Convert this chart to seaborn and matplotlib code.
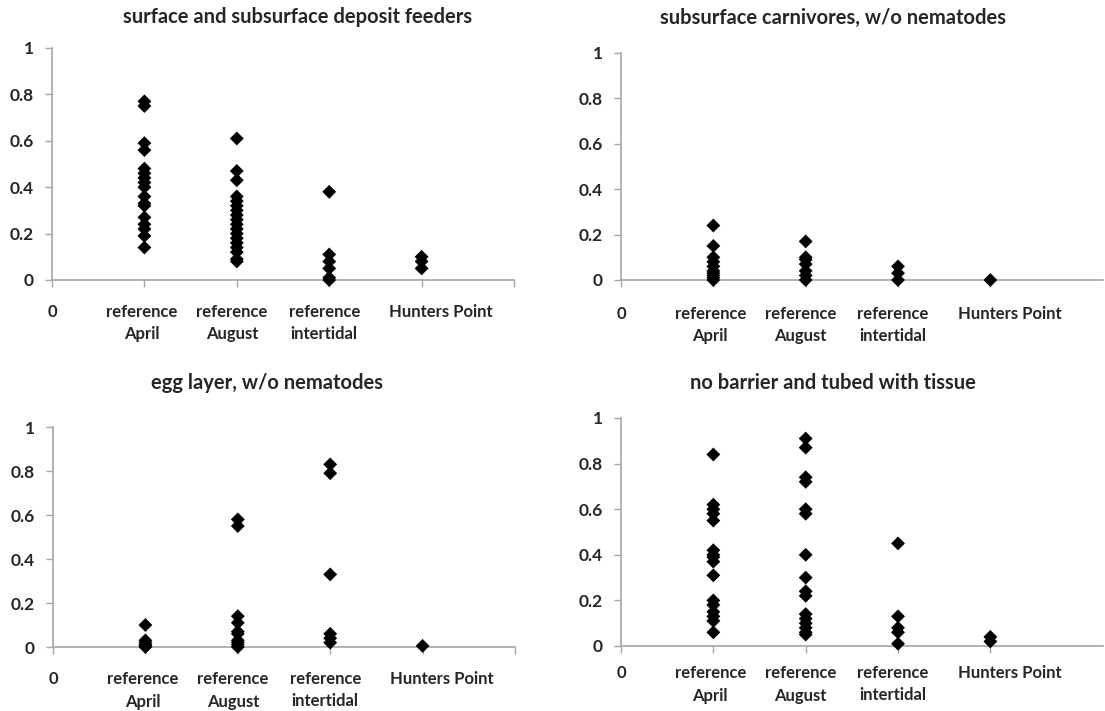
import matplotlib
matplotlib.use("Agg")
import matplotlib.pyplot as plt
import seaborn as sns
import pandas as pd

sns.set_theme(style="white")
plt.rcParams['font.family'] = ['Lato', 'DejaVu Sans']

categories = ["reference April", "reference August", "reference intertidal", "Hunters Point"]
tick_labels = ["0", "reference\nApril", "reference\nAugust", "reference\nintertidal", "Hunters Point", ""]

titles = [
    "surface and subsurface deposit feeders",
    "subsurface carnivores, w/o nematodes",
    "egg layer, w/o nematodes",
    "no barrier and tubed with tissue",
]

deposit_april = [0.77, 0.75, 0.59, 0.56, 0.48, 0.46, 0.44, 0.42, 0.40, 0.36, 0.33, 0.32, 0.27, 0.24, 0.22, 0.19, 0.14]
deposit_august = [0.61, 0.47, 0.43, 0.36, 0.34, 0.32, 0.30, 0.28, 0.26, 0.24, 0.22, 0.20, 0.18, 0.16, 0.14, 0.12, 0.09, 0.08]
deposit_intertidal = [0.38, 0.11, 0.08, 0.05, 0.01, 0.0]
deposit_hunters = [0.10, 0.08, 0.05]

carniv_april = [0.24, 0.15, 0.10, 0.08, 0.06, 0.04, 0.03, 0.02, 0.01, 0.0]
carniv_august = [0.17, 0.10, 0.09, 0.07, 0.04, 0.02, 0.0]
carniv_intertidal = [0.06, 0.03, 0.0]
carniv_hunters = [0.0]

egg_april = [0.10, 0.03, 0.02, 0.01, 0.005, 0.0]
egg_august = [0.58, 0.55, 0.14, 0.11, 0.07, 0.06, 0.03, 0.02, 0.01, 0.0]
egg_intertidal = [0.83, 0.79, 0.33, 0.06, 0.04, 0.02]
egg_hunters = [0.005]

tube_april = [0.84, 0.62, 0.60, 0.58, 0.55, 0.42, 0.40, 0.39, 0.37, 0.31, 0.20, 0.18, 0.15, 0.13, 0.11, 0.06]
tube_august = [0.91, 0.87, 0.74, 0.72, 0.60, 0.58, 0.40, 0.30, 0.24, 0.22, 0.14, 0.12, 0.10, 0.08, 0.06, 0.05]
tube_intertidal = [0.45, 0.13, 0.08, 0.06, 0.01]
tube_hunters = [0.04, 0.02]

panels = [
    [deposit_april, deposit_august, deposit_intertidal, deposit_hunters],
    [carniv_april, carniv_august, carniv_intertidal, carniv_hunters],
    [egg_april, egg_august, egg_intertidal, egg_hunters],
    [tube_april, tube_august, tube_intertidal, tube_hunters],
]

W, H = 1105, 711
fig = plt.figure(figsize=(W / 100, H / 100), dpi=100)

# (left px, right px, top px (y=1), bottom px (y=0), xmax, n ticks)
boxes = [
    (52, 514, 48, 280, 5.0, 6),
    (621, 1103, 53, 280, 5.22, 5),
    (53, 515, 427, 647, 5.0, 6),
    (621, 1103, 418, 646, 5.22, 5),
]
title_pos = [(298, 17), (833, 18), (267, 383), (833, 383)]
label_shift_px = [0, -3, -5, -5, 19, 0]
label_drop_px = [24, 26, 24, 19]

gray = "#a6a6a6"
for i, (vals, box, ttl, tp) in enumerate(zip(panels, boxes, titles, title_pos)):
    l, r, t, b, xmax, nt = box
    ax = fig.add_axes([l / W, 1 - b / H, (r - l) / W, (b - t) / H])
    rows = []
    for ci, (cat, v) in enumerate(zip(categories, vals)):
        for y in v:
            rows.append({"category": cat, "pos": ci + 1, "value": y})
    df = pd.DataFrame(rows)
    sns.scatterplot(data=df, x="pos", y="value", marker="D", color="black",
                    s=50, edgecolor="none", ax=ax, clip_on=False, zorder=3)
    ax.set_xlim(0, xmax)
    ax.set_ylim(0, 1)
    ax.set_xticks(range(nt))
    ax.set_xticklabels([""] * nt)
    for pos, (lab, dx) in enumerate(zip(tick_labels, label_shift_px)):
        if lab:
            ax.annotate(lab, xy=(pos, 0), xycoords=ax.get_xaxis_transform(),
                        xytext=(dx, -label_drop_px[i]), textcoords="offset pixels",
                        ha="center", va="top", fontsize=12, fontweight="bold",
                        linespacing=1.5, multialignment="center", annotation_clip=False)
    ax.set_yticks([0, 0.2, 0.4, 0.6, 0.8, 1.0])
    ax.set_yticklabels(["0", "0.2", "0.4", "0.6", "0.8", "1"], fontsize=12.5, fontweight="bold")
    ax.set_xlabel("")
    ax.set_ylabel("")
    for s in ["top", "right"]:
        ax.spines[s].set_visible(False)
    for s in ["left", "bottom"]:
        ax.spines[s].set_color(gray)
        ax.spines[s].set_linewidth(1.2)
    ax.tick_params(axis="x", direction="out", length=5, color=gray, width=1, bottom=True)
    ax.tick_params(axis="y", direction="out", length=5, color=gray, width=1, pad=8, left=True)
    ax.set_facecolor("white")
    fig.text(tp[0] / W, 1 - tp[1] / H, ttl, ha="center", va="center",
             fontsize=14.5, fontweight="bold")

fig.savefig("out.png", dpi=100, facecolor="white")
